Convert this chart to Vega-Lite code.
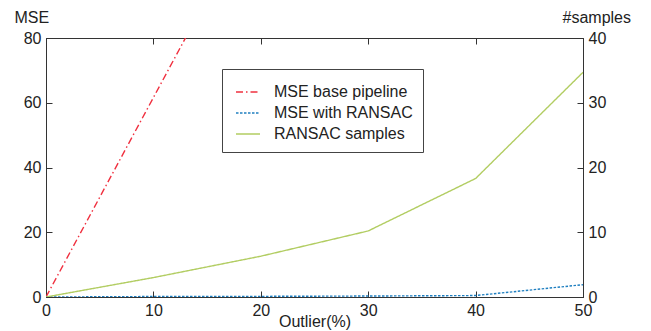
{
  "$schema": "https://vega.github.io/schema/vega-lite/v6.json",
  "width": 537,
  "height": 259,
  "autosize": {"type": "none"},
  "padding": {"left": 46, "top": 38, "right": 68, "bottom": 34},
  "background": "white",
  "config": {
    "font": "Liberation Sans",
    "view": {"stroke": "#333", "strokeWidth": 1},
    "axis": {
      "grid": false,
      "domainColor": "#333",
      "tickColor": "#333",
      "labelColor": "#222",
      "titleColor": "#222",
      "labelFontSize": 16,
      "titleFontSize": 16,
      "titleFontWeight": "normal",
      "tickSize": -6,
      "labelPadding": 11,
      "labelFlush": false,
      "labelOverlap": false
    }
  },
  "datasets": {
    "mse": [
      {"x": 0, "series": "MSE base pipeline", "mse": 0},
      {"x": 10, "series": "MSE base pipeline", "mse": 61.6},
      {"x": 20, "series": "MSE base pipeline", "mse": 123.2},
      {"x": 0, "series": "MSE with RANSAC", "mse": 0},
      {"x": 10, "series": "MSE with RANSAC", "mse": 0.15},
      {"x": 20, "series": "MSE with RANSAC", "mse": 0.2},
      {"x": 30, "series": "MSE with RANSAC", "mse": 0.3},
      {"x": 40, "series": "MSE with RANSAC", "mse": 0.45},
      {"x": 50, "series": "MSE with RANSAC", "mse": 3.8}
    ],
    "samples": [
      {"x": 0, "series": "RANSAC samples", "samples": 0},
      {"x": 10, "series": "RANSAC samples", "samples": 3.0},
      {"x": 20, "series": "RANSAC samples", "samples": 6.3},
      {"x": 30, "series": "RANSAC samples", "samples": 10.2},
      {"x": 40, "series": "RANSAC samples", "samples": 18.3},
      {"x": 50, "series": "RANSAC samples", "samples": 34.7}
    ]
  },
  "layer": [
    {
      "data": {"name": "mse"},
      "mark": {"type": "line", "clip": true, "strokeWidth": 1.4},
      "encoding": {
        "x": {
          "field": "x", "type": "quantitative",
          "scale": {"domain": [0, 50], "nice": false},
          "axis": {"orient": "bottom", "values": [0, 10, 20, 30, 40, 50], "title": "Outlier(%)", "titleY": 29, "titleBaseline": "alphabetic"}
        },
        "y": {
          "field": "mse", "type": "quantitative",
          "scale": {"domain": [0, 80], "nice": false},
          "axis": {"orient": "left", "values": [0, 20, 40, 60, 80], "title": "MSE", "titleAngle": 0, "titleAlign": "left", "titleX": -32, "titleY": -16, "titleBaseline": "alphabetic", "labelPadding": 11}
        },
        "color": {
          "field": "series", "type": "nominal",
          "scale": {"domain": ["MSE base pipeline", "MSE with RANSAC", "RANSAC samples"], "range": ["#f0303f", "#1f7fc0", "#b2cd62"]},
          "legend": {"orient": "none", "legendX": 176, "legendY": 31, "title": null, "strokeColor": "#444", "fillColor": "white", "padding": 10, "symbolOffset": 3, "symbolType": "stroke", "symbolSize": 576, "symbolStrokeWidth": 1.5, "labelFontSize": 16, "labelColor": "#222", "labelOffset": 13, "rowPadding": 0}
        },
        "strokeDash": {
          "field": "series", "type": "nominal",
          "scale": {"domain": ["MSE base pipeline", "MSE with RANSAC", "RANSAC samples"], "range": [[7, 3, 1.5, 3], [2.5, 1.5], [1, 0]]},
          "legend": {"orient": "none", "legendX": 176, "legendY": 31, "title": null, "strokeColor": "#444", "fillColor": "white", "padding": 10, "symbolOffset": 3, "symbolType": "stroke", "symbolSize": 576, "symbolStrokeWidth": 1.5, "labelFontSize": 16, "labelColor": "#222", "labelOffset": 13, "rowPadding": 0}
        }
      }
    },
    {
      "data": {"name": "samples"},
      "mark": {"type": "line", "clip": true, "strokeWidth": 1.4},
      "encoding": {
        "x": {
          "field": "x", "type": "quantitative",
          "scale": {"domain": [0, 50], "nice": false},
          "axis": {"orient": "top", "values": [10, 20, 30, 40], "labels": false, "title": null}
        },
        "y": {
          "field": "samples", "type": "quantitative",
          "scale": {"domain": [0, 40], "nice": false},
          "axis": {"orient": "right", "values": [0, 10, 20, 30, 40], "title": "#samples", "titleAngle": 0, "titleAlign": "left", "titleX": -21, "titleY": -16, "titleBaseline": "alphabetic", "labelPadding": 11}
        },
        "color": {"field": "series", "type": "nominal"},
        "strokeDash": {"field": "series", "type": "nominal"}
      }
    }
  ],
  "resolve": {"scale": {"y": "independent"}, "axis": {"x": "independent"}}
}
